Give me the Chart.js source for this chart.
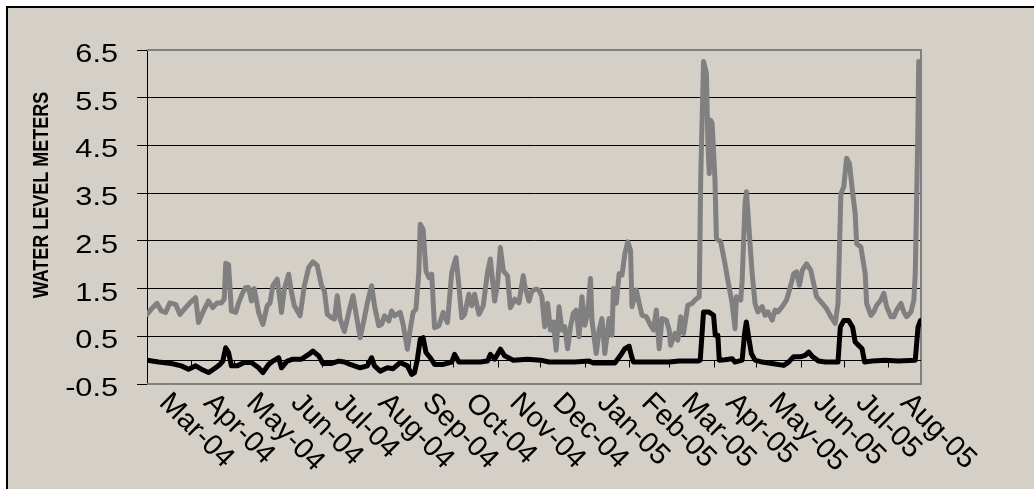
<!DOCTYPE html>
<html lang="en">
<head>
    <meta charset="utf-8">
    <title>Water level</title>
    <script src="https://cdn.jsdelivr.net/npm/chart.js"></script>
    <style>
        html, body {
            margin: 0;
            padding: 0;
            background: #ffffff;
            overflow: hidden;
        }
        #levelChart {
            display: block;
        }
    </style>
</head>
<body>
    <canvas id="levelChart" width="1034" height="489"></canvas>
    <script>
        // days counted from 1 Mar 2004
        const monthLabels = ["Mar-04", "Apr-04", "May-04", "Jun-04", "Jul-04", "Aug-04", "Sep-04", "Oct-04", "Nov-04", "Dec-04", "Jan-05", "Feb-05", "Mar-05", "Apr-05", "May-05", "Jun-05", "Jul-05", "Aug-05"];
        const monthDays = [0, 31, 61, 92, 122, 153, 184, 214, 245, 275, 306, 337, 365, 396, 426, 457, 487, 518];
        const yTicks = [-0.5, 0.5, 1.5, 2.5, 3.5, 4.5, 5.5, 6.5];

        const grayDays = [0, 3, 7, 10, 13, 16, 20, 23, 27, 30, 34, 36, 39, 43, 46, 49, 52, 54, 55, 57, 59, 62, 64, 67, 69, 71, 73, 75, 78, 81, 84, 86, 88, 91, 94, 96, 99, 101, 103, 107, 110, 113, 116, 119, 122, 124, 126, 129, 131, 133, 135, 138,
            141, 144, 147, 149, 152, 154, 157, 159, 162, 164, 166, 169, 171, 173, 177, 179, 182, 184, 186, 188, 190, 191, 193, 195, 197, 199, 201, 204, 207, 210, 213, 216, 218, 220, 222, 225, 227, 229, 232, 235, 238, 240, 243, 245, 247, 249, 252, 254, 257, 260, 263, 264, 267, 269, 272,
            274, 276, 278, 280, 282, 284, 286, 288, 290, 292, 294, 296, 298, 300, 302, 304, 306, 308, 310, 311, 314, 316, 318, 320, 323, 325, 326, 328, 330, 332, 334, 336, 338, 339, 342, 344, 346, 349, 352, 354, 356, 358, 360, 363, 365, 366, 369, 371, 373, 375, 378, 381, 383, 386, 387, 389, 391, 392, 393, 394, 395, 397, 398, 401, 404,
            406, 409, 411, 412, 415, 416, 418, 419, 421, 423, 425, 427, 430, 432, 434, 437, 439, 441, 444, 447, 450, 452, 454, 456, 458, 461, 464, 466, 468, 472, 475, 478, 481, 483, 485, 487, 489, 491, 493, 495, 496, 499, 502, 503, 506, 508, 510, 513, 515, 517, 520, 522, 524, 527, 529, 531, 534, 536, 537, 538.7, 539.4, 540.2, 541];
        const grayLevel = [0.96, 1.07, 1.19, 1.03, 1.0, 1.2, 1.17, 0.96, 1.1, 1.2, 1.31, 0.79, 1.0, 1.24, 1.1, 1.2, 1.2, 1.28, 2.03, 2.0, 1.03, 1.0, 1.2, 1.42, 1.52, 1.52, 1.24, 1.5, 1.0, 0.75, 1.14, 1.2, 1.56, 1.7, 1.0, 1.49, 1.8, 1.42, 1.14, 0.93, 1.56, 1.94, 2.06, 1.98, 1.56, 1.45, 0.96, 0.89, 0.86, 1.35, 0.86, 0.6,
            1.0, 1.35, 0.82, 0.47, 0.89, 1.2, 1.56, 1.14, 0.72, 0.75, 0.93, 0.82, 1.03, 0.93, 1.0, 0.75, 0.23, 0.65, 1.0, 1.07, 1.84, 2.85, 2.74, 1.87, 1.73, 1.8, 0.68, 0.72, 1.0, 0.79, 1.84, 2.15, 1.56, 0.89, 0.96, 1.38, 1.14, 1.38, 0.96, 1.14, 1.84, 2.12, 1.24, 1.59, 2.36, 1.87, 1.77, 1.1, 1.28, 1.2, 1.77, 1.56, 1.24, 1.45, 1.49,
            1.47, 1.33, 0.7, 1.19, 0.63, 0.8, 0.21, 1.12, 0.63, 0.7, 0.24, 0.7, 0.98, 1.05, 0.49, 1.33, 0.73, 0.98, 1.71, 0.84, 0.14, 0.63, 0.87, 0.14, 0.87, 0.52, 1.5, 1.19, 1.81, 1.78, 2.23, 2.48, 2.3, 1.12, 1.47, 1.19, 0.94, 0.91, 0.73, 0.63, 1.05, 0.24, 0.87, 0.84, 0.63, 0.31, 0.56, 0.42, 0.91, 0.56, 1.15, 1.19, 1.26, 1.33, 3.77, 6.26, 6.01, 4.61, 3.91, 5.03, 4.96, 3.77, 2.55, 2.48, 2.02,
            1.67, 1.19, 0.66, 1.33, 1.26, 1.67, 3.28, 3.53, 2.65, 1.81, 1.19, 1.01, 1.12, 0.94, 1.01, 0.84, 1.05, 1.01, 1.12, 1.26, 1.57, 1.81, 1.85, 1.57, 1.88, 2.02, 1.88, 1.6, 1.33, 1.19, 1.08, 0.91, 0.77, 1.19, 3.49, 3.63, 4.23, 4.12, 3.56, 3.07, 2.44, 2.37, 1.81, 1.19, 0.94, 1.01, 1.15, 1.26, 1.4, 1.12, 0.91, 0.91, 1.05, 1.19, 1.01, 0.91, 1.01, 1.26, 1.81, 4.61, 6.26, 6.1, 4.75];

        const blackDays = [0, 8, 17, 24, 29, 34, 38, 43, 48, 51, 53, 55, 57, 59, 63, 68, 73, 78, 81, 85, 88, 92, 94, 98, 102, 108, 113, 116, 120, 123, 129, 134, 138,
            142, 149, 154, 157, 159, 163, 168, 172, 177, 182, 185, 187, 189, 191, 193, 195, 198, 201, 207, 213, 215, 218, 224, 233, 238, 240, 243, 247, 250, 256, 266, 275,
            281, 290, 299, 309, 312, 318, 327, 331, 334, 337, 338.5, 340, 353, 365, 372, 385, 386.7, 389, 392.5, 396, 397.2, 399, 400, 404, 409,
            411, 416, 417.7, 418.9, 420.5, 422.4, 425, 430, 434.5, 439, 445, 448.5, 452, 456.6, 460, 462.5, 465.3, 469.5, 474, 483, 484.6, 487, 490.4, 493.2, 495, 497.4, 499.8, 501.6, 507, 516, 525, 537, 538.9, 540.6, 541];
        const blackLevel = [0.0, -0.04, -0.07, -0.12, -0.19, -0.12, -0.19, -0.26, -0.16, -0.09, -0.02, 0.26, 0.16, -0.12, -0.12, -0.05, -0.05, -0.16, -0.26, -0.09, -0.02, 0.05, -0.16, -0.02, 0.02, 0.02, 0.12, 0.19, 0.09, -0.07, -0.07, -0.02, -0.04,
            -0.09, -0.16, -0.12, 0.05, -0.12, -0.23, -0.16, -0.18, -0.05, -0.12, -0.3, -0.26, 0.02, 0.44, 0.47, 0.16, 0.05, -0.09, -0.09, -0.04, 0.12, -0.04, -0.04, -0.04, -0.02, 0.12, 0.02, 0.23, 0.09, 0.0, 0.02, 0.0,
            -0.04, -0.04, -0.04, -0.02, -0.06, -0.06, -0.06, 0.1, 0.24, 0.29, 0.1, -0.04, -0.04, -0.04, -0.02, -0.02, 0.0, 1.01, 1.01, 0.94, 0.52, 0.52, 0.0, 0.01, 0.03,
            -0.04, 0.0, 0.56, 0.8, 0.49, 0.14, 0.0, -0.04, -0.06, -0.08, -0.11, -0.04, 0.07, 0.07, 0.1, 0.17, 0.07, -0.02, -0.04, -0.04, 0.69, 0.83, 0.83, 0.69, 0.38, 0.31, 0.24, -0.04, -0.02, 0.0, -0.02, 0.0, 0.69, 0.83, 0.83];

        const FONT = '"Liberation Sans", Arial, sans-serif';
        const STRETCH = 1.18;

        function toPoints(days, levels) {
            return days.map((d, i) => ({ x: d, y: levels[i] }));
        }

        // frame, plot border, axis line at zero, month ticks and all the text
        const decorations = {
            id: 'decorations',
            beforeDraw(chart) {
                const ctx = chart.ctx;
                ctx.save();
                ctx.fillStyle = '#ffffff';
                ctx.fillRect(0, 0, chart.width, chart.height);
                ctx.fillStyle = '#d4d0c8';
                ctx.fillRect(7, 7, chart.width, chart.height);
                ctx.strokeStyle = '#000000';
                ctx.lineWidth = 2;
                ctx.beginPath();
                ctx.moveTo(7, chart.height + 5);
                ctx.lineTo(7, 7);
                ctx.lineTo(chart.width + 5, 7);
                ctx.stroke();
                ctx.restore();
            },
            beforeDatasetsDraw(chart) {
                const ctx = chart.ctx;
                const a = chart.chartArea;
                const xs = chart.scales.x;
                const ys = chart.scales.y;
                ctx.save();
                ctx.strokeStyle = '#808080';
                ctx.lineWidth = 2;
                ctx.beginPath();
                ctx.moveTo(a.left, a.top);
                ctx.lineTo(a.right, a.top);
                ctx.lineTo(a.right, a.bottom);
                ctx.lineTo(a.left, a.bottom);
                ctx.stroke();

                const zeroY = Math.round(ys.getPixelForValue(0)) + 0.5;
                ctx.strokeStyle = '#000000';
                ctx.lineWidth = 1;
                ctx.beginPath();
                ctx.moveTo(a.left, zeroY);
                ctx.lineTo(a.right, zeroY);
                monthDays.forEach(d => {
                    const x = Math.round(xs.getPixelForValue(d)) + 0.5;
                    ctx.moveTo(x, zeroY);
                    ctx.lineTo(x, zeroY + 7);
                });
                ctx.stroke();
                ctx.restore();
            },
            afterDraw(chart) {
                const ctx = chart.ctx;
                const a = chart.chartArea;
                const xs = chart.scales.x;
                const ys = chart.scales.y;
                ctx.save();
                ctx.fillStyle = '#000000';

                // y tick labels
                ctx.font = '26px ' + FONT;
                ctx.textAlign = 'right';
                ctx.textBaseline = 'alphabetic';
                yTicks.forEach(v => {
                    const y = ys.getPixelForValue(v);
                    ctx.save();
                    ctx.translate(118, y + 12);
                    ctx.scale(STRETCH, 1);
                    ctx.fillText(v.toFixed(1), 0, 0);
                    ctx.restore();
                });

                // y axis title
                ctx.save();
                ctx.font = 'bold 18px ' + FONT;
                ctx.textAlign = 'center';
                ctx.textBaseline = 'middle';
                ctx.translate(42.5, 195);
                ctx.scale(STRETCH, 1);
                ctx.rotate(-Math.PI / 2);
                ctx.fillText('WATER LEVEL METERS', 0, 0);
                ctx.restore();

                // month labels, slanting down to the right
                ctx.font = '29px ' + FONT;
                ctx.textAlign = 'left';
                ctx.textBaseline = 'top';
                monthLabels.forEach((lab, i) => {
                    const x = xs.getPixelForValue(monthDays[i]);
                    ctx.save();
                    ctx.translate(x + 27, a.bottom + 4);
                    ctx.rotate(Math.PI / 4);
                    ctx.fillText(lab, 0, 0);
                    ctx.restore();
                });
                ctx.restore();
            }
        };

        const chart = new Chart(document.getElementById('levelChart'), {
            type: 'line',
            data: {
                datasets: [{
                    label: 'Lower gauge',
                    data: toPoints(blackDays, blackLevel),
                    borderColor: '#000000',
                    borderWidth: 5,
                    order: 0
                }, {
                    label: 'Upper gauge',
                    data: toPoints(grayDays, grayLevel),
                    borderColor: '#808080',
                    borderWidth: 5,
                    order: 1
                }]
            },
            options: {
                responsive: false,
                animation: false,
                devicePixelRatio: 1,
                layout: {
                    padding: { left: 0, top: 50, right: 113, bottom: 105 }
                },
                elements: {
                    point: { radius: 0 },
                    line: { tension: 0, borderJoinStyle: 'round', borderCapStyle: 'round' }
                },
                plugins: {
                    legend: { display: false },
                    tooltip: { enabled: false }
                },
                scales: {
                    x: {
                        type: 'linear',
                        min: 0,
                        max: 541,
                        display: false
                    },
                    y: {
                        min: -0.5,
                        max: 6.5,
                        afterFit: scale => { scale.width = 147; },
                        ticks: { display: false, stepSize: 1 },
                        grid: { color: '#000000', lineWidth: 1, drawTicks: true, tickLength: 10 },
                        border: { display: true, color: '#000000', width: 1 }
                    }
                }
            },
            plugins: [decorations]
        });
    </script>
</body>
</html>
